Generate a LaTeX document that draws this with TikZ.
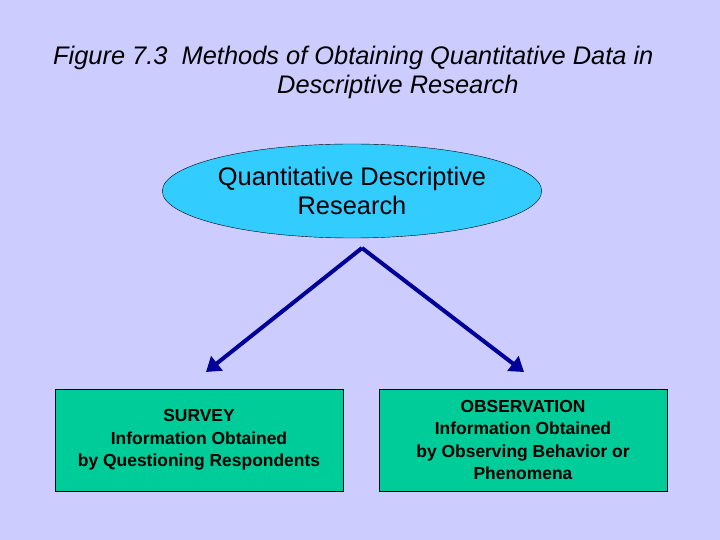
\documentclass[tikz,border=0pt]{standalone}
\usepackage{fontspec}
\setmainfont{Liberation Sans}
\usetikzlibrary{shapes.geometric,arrows.meta}
\definecolor{bg}{RGB}{204,204,255}
\definecolor{ell}{RGB}{51,204,255}
\definecolor{boxg}{RGB}{0,204,153}
\definecolor{arr}{RGB}{0,0,153}
\tikzset{
 box/.style={draw=black,fill=boxg,minimum width=288bp,minimum height=102bp,align=center,font=\fontsize{17.5}{22.5}\selectfont\bfseries,inner sep=0pt},
 conn/.style={arr,line width=4bp,-{Triangle[length=14bp,width=18bp]}}
}
\begin{document}
\begin{tikzpicture}[x=1bp,y=-1bp]
\fill[bg] (0,0) rectangle (720,540);
\useasboundingbox (0,0) rectangle (720,540);
\node[font=\fontsize{25.5}{29}\selectfont\itshape,align=left,anchor=north west,inner sep=0pt] (title) at (53,46)
 {Figure 7.3\ \ Methods of Obtaining Quantitative Data in\\\hspace*{224bp}Descriptive Research};
\node[ellipse,draw=black,fill=ell,minimum width=330bp,minimum height=94bp,inner sep=0pt,align=center,font=\fontsize{25.5}{29}\selectfont] (q) at (352,191) {Quantitative Descriptive\\Research};
\node[box] (s) at (199,440) {SURVEY\\Information Obtained\\by Questioning Respondents};
\node[box] (o) at (523,440) {OBSERVATION\\Information Obtained\\by Observing Behavior or\\Phenomena};
\coordinate (top) at (362,248);
\coordinate (l) at (206,372);
\coordinate (r) at (524,372);
\draw[conn] (top) -- (l);
\draw[conn] (top) -- (r);
\end{tikzpicture}
\end{document}
